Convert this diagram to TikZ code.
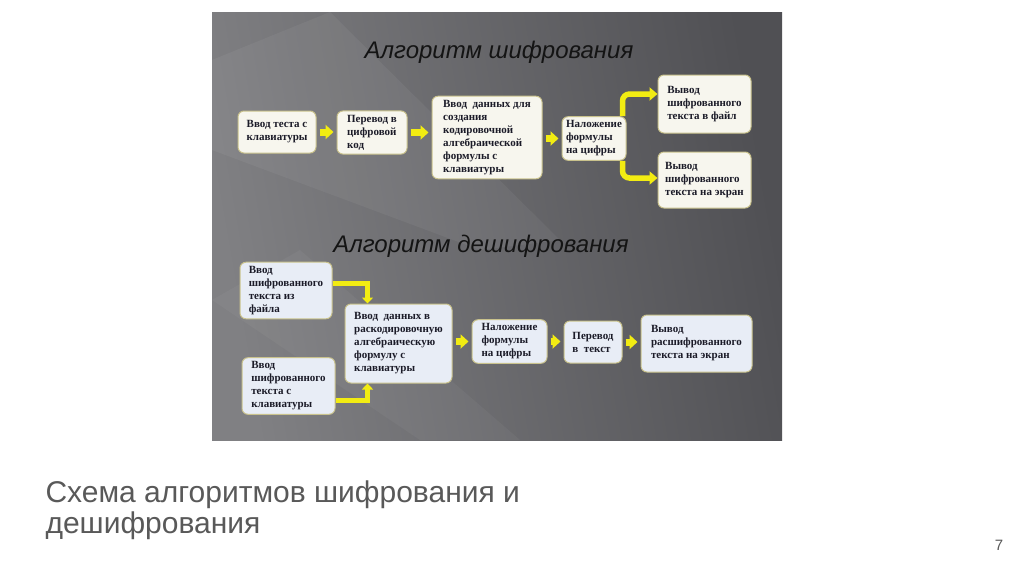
\documentclass[tikz,border=0pt]{standalone}
\usepackage{fontspec}
\setmainfont{Liberation Serif}
\setsansfont{Liberation Sans}
\usepackage{xcolor}
\usetikzlibrary{arrows.meta, positioning}

\definecolor{bgleft}{HTML}{808083}
\definecolor{bgright}{HTML}{505054}
\definecolor{boxtop}{HTML}{F7F6EE}
\definecolor{boxbot}{HTML}{E8EDF6}
\definecolor{boxedge}{HTML}{C9C28C}
\definecolor{boxtext}{HTML}{1B1B28}
\definecolor{arrowyel}{HTML}{F2EC12}
\definecolor{headtext}{HTML}{141414}
\definecolor{captext}{HTML}{595959}

\begin{document}
\begin{tikzpicture}[x=1pt, y=-1pt,
          box/.style = {draw=boxedge, line width=1pt, rounded corners=6pt,
              fill=boxtop, align=left, inner sep=4pt, text=boxtext,
              font=\bfseries\fontsize{11}{13}\selectfont},
          dbox/.style = {box, fill=boxbot},
          heading/.style = {anchor=base, text=headtext,
              font=\sffamily\itshape\fontsize{24}{29}\selectfont},
          go/.style = {draw=arrowyel, line width=7pt,
              -{Triangle[length=8pt, width=14pt]},
              shorten <=3pt, shorten >=3pt},
          fork/.style = {draw=arrowyel, line width=5.5pt, rounded corners=7pt,
              -{Triangle[length=8pt, width=13pt]}},
          merge/.style = {draw=arrowyel, line width=5pt,
              -{Triangle[length=6pt, width=11pt]}}
          ]
          \useasboundingbox (0,0) rectangle (1024,574);
          \fill[white] (0,0) rectangle (1024,574);

          % Slide picture
          \shade[left color=bgleft, right color=bgright, shading angle=100]
              (212,12) rectangle (782,440);
          \fill[white, opacity=0.05] (212,60) -- (330,12) -- (560,240) -- (480,250) -- (212,150) -- cycle;
          \fill[white, opacity=0.04] (212,300) -- (300,250) -- (520,440) -- (420,440) -- cycle;

          \node (enc) [heading] at (499,58) {Алгоритм шифрования};
          \node (dec) [heading] at (481,252) {Алгоритм дешифрования};

          % Encryption
          \node (b1) [box, align=center, minimum width=78pt, minimum height=42pt] at (277,132)
              {Ввод теста с\\клавиатуры};
          \node (b2) [box, minimum width=70pt, minimum height=41pt] at (372,132.5)
              {Перевод в\\цифровой\\код};
          \node (b3) [box, minimum width=110pt, minimum height=81pt] at (487,137.5)
              {Ввод~ данных для\\создания\\кодировочной\\алгебраической\\формулы с\\клавиатуры};
          \node (b4) [box, minimum width=64pt, minimum height=43pt] at (594,138.5)
              {Наложение\\формулы\\на цифры};
          \node (b5) [box, minimum width=93pt, minimum height=58pt] at (704.5,104)
              {Вывод\\шифрованного\\текста в файл};
          \node (b6) [box, minimum width=93pt, minimum height=56pt] at (704.5,180)
              {Вывод\\шифрованного\\текста на экран};

          % Decryption
          \node (d1) [dbox, minimum width=92pt, minimum height=55pt] at (286,290.5)
              {Ввод\\шифрованного\\текста из\\файла};
          \node (d2) [dbox, minimum width=93pt, minimum height=56pt] at (288.5,386)
              {Ввод\\шифрованного\\текста с\\клавиатуры};
          \node (d3) [dbox, minimum width=107pt, minimum height=79pt] at (398.5,343.5)
              {Ввод~ данных в\\раскодировочную\\алгебраическую\\формулу с\\клавиатуры};
          \node (d4) [dbox, minimum width=75pt, minimum height=43pt] at (509.5,341.5)
              {Наложение\\формулы\\на цифры};
          \node (d5) [dbox, minimum width=58pt, minimum height=42pt] at (593,342)
              {Перевод\\в~ текст};
          \node (d6) [dbox, minimum width=111pt, minimum height=57pt] at (696.5,343.5)
              {Вывод\\расшифрованного\\текста на экран};

          % Links
          \draw[go] (b1.east) -- (b1.east -| b2.west);
          \draw[go] (b2.east) -- (b2.east -| b3.west);
          \draw[go] (b3.east |- b4) -- (b4.west);
          \draw[fork] ([xshift=-4pt]b4.north east) |- ([yshift=10pt]b5.west);
          \draw[fork] ([xshift=-4pt]b4.south east) |- ([yshift=2pt]b6.west);

          \draw[merge] ([yshift=7.5pt]d1.east) -| ([xshift=23pt]d3.north west);
          \draw[merge] ([yshift=-14pt]d2.east) -| ([xshift=23pt]d3.south west);
          \draw[go] (d3.east |- d4) -- (d4.west);
          \draw[go] (d4.east) -- (d4.east -| d5.west);
          \draw[go] (d5.east) -- (d5.east -| d6.west);

          % Caption
          \node (cap) [anchor=base west, align=left, text=captext,
              font=\sffamily\fontsize{30}{31}\selectfont] at (42,533)
              {Схема алгоритмов шифрования и\\дешифрования};
          \node (num) [anchor=base, text=captext, font=\sffamily\fontsize{15}{18}\selectfont]
              at (999,550) {7};
\end{tikzpicture}
\end{document}
